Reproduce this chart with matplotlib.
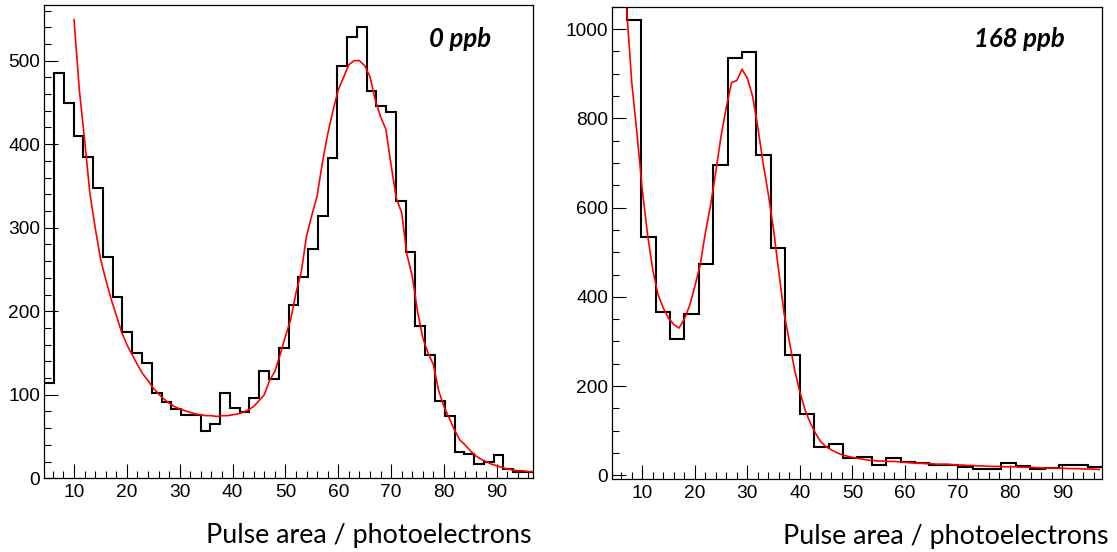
import numpy as np
import matplotlib
matplotlib.use("Agg")
import matplotlib.pyplot as plt
from matplotlib.ticker import MultipleLocator

plt.rcParams['font.family'] = ['Liberation Sans', 'DejaVu Sans']

# ---- 0 ppb panel ----
left_xlim = (4.38, 96.8)
left_ylim = (0, 567)
# black histogram, 50 equal bins over the x range
left_counts = [114, 485, 449, 410, 385, 348, 265, 217, 175, 150,
               138, 102, 91, 83, 76, 76, 57, 65, 102, 84,
               79, 96, 129, 119, 156, 208, 241, 274, 314, 383,
               494, 528, 540, 464, 446, 439, 332, 271, 182, 148,
               92, 75, 31, 29, 17, 19, 28, 11, 7, 7]
# red fit, one value per unit of pulse area from 10 to 97
left_fit_x = list(range(10, 98))
left_fit_y = [549, 465, 405, 341, 300, 263, 238, 215, 195, 175,
              160, 148, 136, 125, 117, 108, 101, 95, 90, 86,
              83, 81, 79, 77, 76, 75, 75, 74, 75, 75,
              76, 77, 79, 82, 86, 93, 100, 117, 128, 148,
              170, 190, 222, 247, 290, 315, 338, 378, 412, 440,
              465, 480, 495, 500, 500, 494, 481, 453, 433, 418,
              375, 335, 318, 268, 242, 200, 168, 150, 136, 105,
              86, 72, 58, 46, 40, 33, 27, 23, 20, 17,
              15, 13, 11, 10, 9, 9, 8, 8]

# ---- 168 ppb panel ----
right_xlim = (4.3, 97.6)
right_ylim = (-9, 1050)
right_counts = [1150, 1021, 535, 365, 306, 361, 473, 696, 936, 949,
                718, 509, 270, 137, 63, 70, 39, 42, 22, 38,
                29, 27, 24, 24, 19, 13, 15, 28, 21, 13,
                16, 22, 24, 19]
right_fit_x = list(range(6, 98))
right_fit_y = [1150, 1050, 880, 765, 640, 540, 460, 405, 375, 352,
               338, 330, 350, 380, 423, 470, 543, 605, 680, 760,
               825, 880, 885, 910, 890, 850, 780, 700, 630, 550,
               455, 363, 300, 236, 187, 146, 117, 94, 75, 64,
               57, 51, 46, 43, 40, 38, 36, 34, 33, 32,
               32, 31, 31, 30, 29, 28, 27, 27, 26, 26,
               25, 25, 25, 24, 23, 23, 22, 22, 21, 21,
               20, 20, 20, 19, 19, 19, 18, 18, 18, 17,
               17, 16, 16, 16, 16, 15, 15, 15, 14, 14,
               14, 13]

xlabel = "Pulse area / photoelectrons"


def draw_panel(ax, xlim, ylim, counts, fit_x, fit_y, ymajor, yminor, tag, tag_pos, label_x):
    edges = np.linspace(xlim[0], xlim[1], len(counts) + 1)
    ax.stairs(counts, edges, baseline=None, color='black', lw=1.5)
    ax.plot(fit_x, fit_y, color='red', lw=1.2)
    ax.set_xlim(*xlim)
    ax.set_ylim(*ylim)
    ax.xaxis.set_major_locator(MultipleLocator(10))
    ax.xaxis.set_minor_locator(MultipleLocator(2))
    ax.yaxis.set_major_locator(MultipleLocator(ymajor))
    ax.yaxis.set_minor_locator(MultipleLocator(yminor))
    ax.tick_params(which='both', direction='in', top=False, right=False,
                   labelsize=13.8, width=0.8, color='black')
    ax.tick_params(which='major', length=10)
    ax.tick_params(which='minor', length=5)
    ax.tick_params(axis='y', pad=3)
    ax.tick_params(axis='x', pad=4)
    for s in ax.spines.values():
        s.set_linewidth(0.9)
    ax.text(tag_pos[0], tag_pos[1], tag, transform=ax.transAxes, ha='right',
            va='baseline', fontsize=18.5, fontweight='bold', fontstyle='italic',
            family=['Lato', 'DejaVu Sans'])
    ax.text(label_x, -0.136, xlabel, transform=ax.transAxes, ha='right',
            va='baseline', fontsize=19.3, family=['Lato', 'DejaVu Sans'])


fig = plt.figure(figsize=(11.17, 5.52), dpi=100)
ax1 = fig.add_axes([0.0397, 0.1335, 0.4372, 0.858])
ax2 = fig.add_axes([0.5482, 0.1317, 0.4387, 0.856])

draw_panel(ax1, left_xlim, left_ylim, left_counts, left_fit_x, left_fit_y,
           100, 20, "0 ppb", (0.9146, 0.9113), 0.998)
draw_panel(ax2, right_xlim, right_ylim, right_counts, right_fit_x, right_fit_y,
           200, 50, "168 ppb", (0.9224, 0.9154), 1.012)

fig.savefig("out.png", dpi=100)
